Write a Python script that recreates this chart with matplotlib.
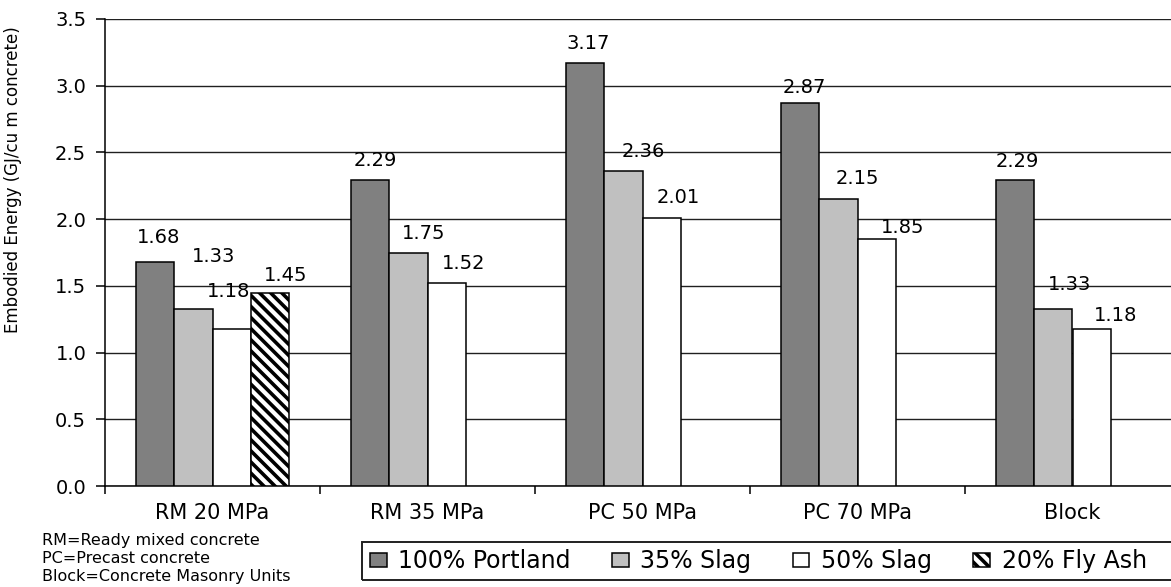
import matplotlib
matplotlib.use("Agg")
import matplotlib.pyplot as plt
import matplotlib.patches as mpatches
import numpy as np

categories = ['RM 20 MPa', 'RM 35 MPa', 'PC 50 MPa', 'PC 70 MPa', 'Block']
series_names = ['100% Portland', '35% Slag', '50% Slag', '20% Fly Ash']
portland = [1.68, 2.29, 3.17, 2.87, 2.29]
slag35 = [1.33, 1.75, 2.36, 2.15, 1.33]
slag50 = [1.18, 1.52, 2.01, 1.85, 1.18]
flyash = [1.45, np.nan, np.nan, np.nan, np.nan]
notes = ['RM=Ready mixed concrete', 'PC=Precast concrete', 'Block=Concrete Masonry Units']

colors = ['#808080', '#c0c0c0', '#ffffff', '#ffffff']
hatches = [None, None, None, '\\\\\\']

# label nudges (pixels) from the top centre of each bar
label_shift = [
    [(4, 24), (6, 20), (3, 20), (5, 16), (3, 19)],
    [(20, 52), (15, 19), (20, 20), (19, 21), (16, 24)],
    [(-3, 37), (17, 20), (17, 20), (26, 12), (24, 13)],
    [(15, 17), None, None, None, None],
]

plt.rcParams['hatch.linewidth'] = 2.6
plt.rcParams['hatch.color'] = 'black'

W, H = 1171, 587
fig = plt.figure(figsize=(W / 100, H / 100), dpi=100)
ax = fig.add_axes([105 / W, 1 - 486 / H, 1075 / W, 467 / H])

x = np.arange(len(categories))
bw = 0.179
all_series = [portland, slag35, slag50, flyash]
for i, vals in enumerate(all_series):
    xs = x + (i - 1.5) * bw
    ax.bar(xs, vals, bw, color=colors[i], edgecolor='black', linewidth=1.1,
           hatch=hatches[i], zorder=3)
    for j, v in enumerate(vals):
        if np.isnan(v):
            continue
        dx, dy = label_shift[i][j]
        ax.annotate(f'{v:.2f}', xy=(xs[j], v), xytext=(dx * 0.72, dy * 0.72),
                    textcoords='offset points', ha='center', va='center',
                    fontsize=14, zorder=4)

ax.set_xlim(-0.5, 4.5)
ax.set_ylim(0, 3.5)
ax.set_yticks(np.arange(0, 3.51, 0.5))
ax.set_yticklabels([f'{t:.1f}' for t in np.arange(0, 3.51, 0.5)])
ax.set_xticks(x)
ax.set_xticklabels(categories)
ax.set_xticks(np.arange(-0.5, 4.0, 1.0), minor=True)
ax.tick_params(axis='x', which='major', length=0, pad=12, labelsize=15)
ax.tick_params(axis='x', which='minor', length=6, width=1.1, direction='out')
ax.tick_params(axis='y', length=6.5, width=1.1, pad=7, labelsize=14)
ax.yaxis.grid(True, color='#202020', linewidth=1.0)
ax.set_axisbelow(True)
for s in ['top', 'right']:
    ax.spines[s].set_visible(False)
for s in ['left', 'bottom']:
    ax.spines[s].set_linewidth(1.1)
    ax.spines[s].set_color('black')

fig.text(13 / W, 1 - 180 / H, 'Embodied Energy (GJ/cu m concrete)', rotation=90,
         ha='center', va='center', fontsize=12)

for k, line in enumerate(notes):
    fig.text(42 / W, 1 - (540 + 18.5 * k) / H, line, ha='left', va='center', fontsize=11.5)

handles = [mpatches.Patch(facecolor=colors[i], edgecolor='black', linewidth=1.1,
                          hatch=hatches[i]) for i in range(4)]
fig.legend(handles, series_names, ncol=4, loc='center left',
           bbox_to_anchor=(370 / W, 1 - 561 / H), frameon=False, fontsize=17,
           handlelength=0.7, handleheight=0.55, handletextpad=0.5,
           columnspacing=1.75, borderaxespad=0, borderpad=0)
fig.add_artist(mpatches.Rectangle((362 / W, 1 - 580 / H), 830 / W, 38 / H,
                                  transform=fig.transFigure, fill=False,
                                  edgecolor='#202020', linewidth=1.4))

fig.savefig('out.png', dpi=100)
